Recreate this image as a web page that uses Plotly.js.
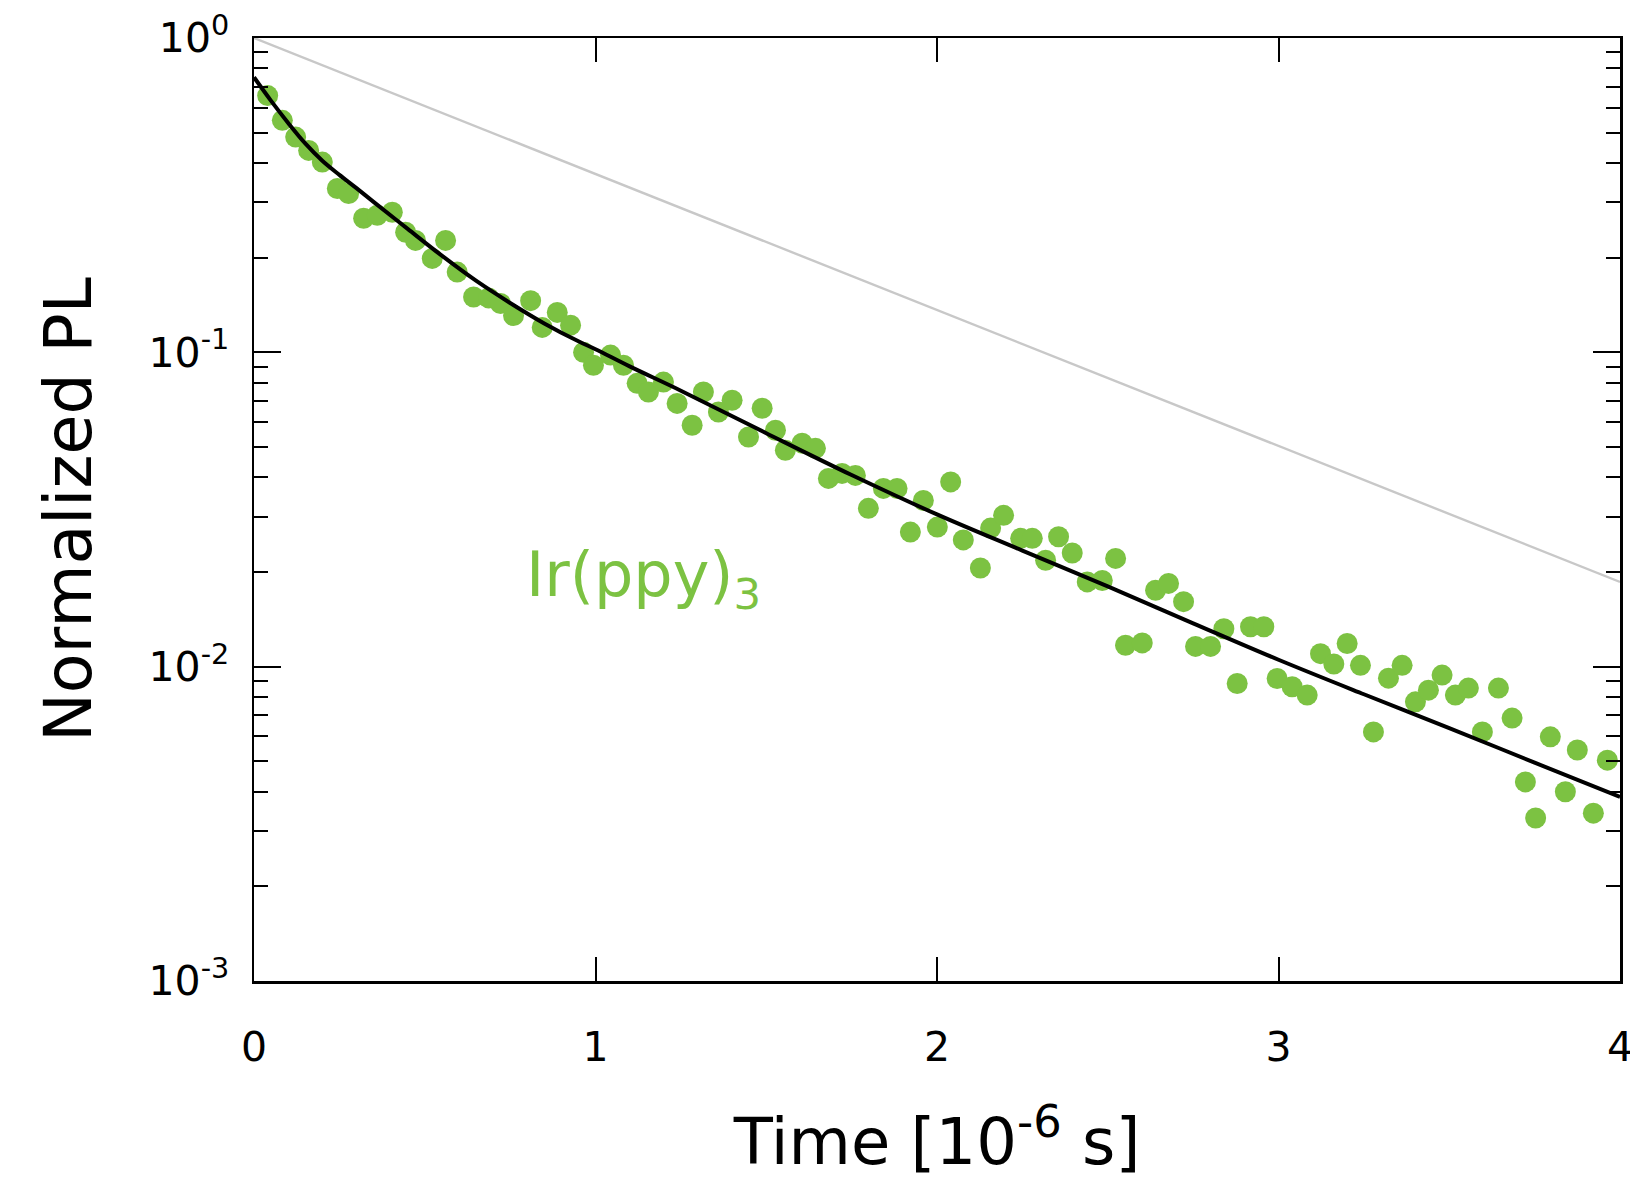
<!DOCTYPE html>
<html>
<head>
<meta charset="utf-8">
<script src="https://cdn.plot.ly/plotly-3.0.1.min.js"></script>
<style>
  html, body { margin: 0; padding: 0; background: #ffffff; }
  #chart { width: 1630px; height: 1179px; }
</style>
</head>
<body>
<div id="chart"></div>
<script>
// ---- Data ----
const timeData = [0.040,0.083,0.122,0.160,0.200,0.244,0.277,0.321,0.361,0.405,
  0.444,0.473,0.522,0.561,0.595,0.643,0.687,0.722,0.760,0.810,
  0.844,0.888,0.927,0.965,0.994,1.044,1.082,1.122,1.155,1.199,
  1.239,1.283,1.316,1.360,1.400,1.448,1.488,1.527,1.556,1.605,
  1.644,1.682,1.722,1.761,1.799,1.843,1.883,1.922,1.960,2.001,
  2.040,2.077,2.127,2.157,2.195,2.245,2.279,2.318,2.356,2.396,
  2.440,2.484,2.523,2.552,2.601,2.640,2.678,2.722,2.757,2.801,
  2.840,2.879,2.918,2.957,2.996,3.040,3.084,3.123,3.162,3.201,
  3.240,3.278,3.322,3.362,3.401,3.439,3.479,3.518,3.556,3.597,
  3.644,3.684,3.723,3.753,3.796,3.840,3.875,3.922,3.963,4.001];
const plData = [0.656,0.547,0.484,0.439,0.403,0.332,0.320,0.267,0.273,0.279,
  0.241,0.227,0.199,0.227,0.180,0.150,0.149,0.143,0.131,0.146,
  0.120,0.134,0.122,0.100,0.091,0.098,0.091,0.0797,0.0748,0.0804,
  0.0688,0.0586,0.0748,0.0646,0.0704,0.0538,0.0664,0.0565,0.0488,0.0514,
  0.0495,0.0397,0.0412,0.0406,0.0319,0.0369,0.0369,0.0268,0.0338,0.0278,
  0.0387,0.0253,0.0206,0.0276,0.0303,0.0256,0.0256,0.0218,0.0259,0.0230,
  0.0186,0.0188,0.0221,0.0117,0.0119,0.0175,0.0184,0.0161,0.0116,0.0116,
  0.0132,0.00884,0.0134,0.0134,0.00917,0.00863,0.00812,0.0110,0.0102,0.01185,
  0.0101,0.00620,0.00919,0.0101,0.00773,0.00842,0.00940,0.00812,0.00855,0.00620,
  0.00855,0.00686,0.00430,0.00330,0.00598,0.00400,0.00543,0.00342,0.00504,0.00420];

// fitted curve
const fitTime = [0, 0.05, 0.10, 0.15, 0.20, 0.25, 0.30, 0.35, 0.45, 0.55,
  0.65, 0.75, 0.85, 0.95, 1.0, 1.1, 1.25, 1.5, 1.75, 2.0,
  2.25, 2.5, 2.75, 3.0, 3.25, 3.5, 3.75, 4.0];
const fitPL = [0.750, 0.631, 0.537, 0.462, 0.407, 0.367, 0.333, 0.301, 0.247, 0.203,
  0.169, 0.1436, 0.1236, 0.1084, 0.1023, 0.0902, 0.0755, 0.0553, 0.0407, 0.0305,
  0.0234, 0.0180, 0.01374, 0.01052, 0.00817, 0.00638, 0.00495, 0.00385];

// grey single-exponential reference line
const refTime = [0, 4];
const refPL = [1.0, 0.0186];

const xTickVals = [0, 1, 2, 3, 4];
const xTickText = ['0', '1', '2', '3', '4'];
const yTickVals = [1, 0.1, 0.01, 0.001];
const yTickText = ['10<sup>0</sup>', '10<sup>-1</sup>', '10<sup>-2</sup>', '10<sup>-3</sup>'];

const seriesLabel = 'Ir(ppy)<sub>3</sub>';
const xTitle = 'Time [10<sup>-6</sup> s]';
const yTitle = 'Normalized PL';

// ---- Styles ----
const green = '#7cc242';
const fontFam = '"DejaVu Sans", "Open Sans", sans-serif';

const traces = [
  {
    x: refTime, y: refPL, type: 'scatter', mode: 'lines',
    line: { color: '#c8c8c8', width: 2.4 },
    hoverinfo: 'skip', showlegend: false
  },
  {
    x: timeData, y: plData, type: 'scatter', mode: 'markers',
    marker: { color: green, size: 21, line: { width: 0 } },
    cliponaxis: false, showlegend: false
  },
  {
    x: fitTime, y: fitPL, type: 'scatter', mode: 'lines',
    line: { color: '#000000', width: 4, shape: 'spline', smoothing: 1 },
    showlegend: false
  }
];

const layout = {
  width: 1630, height: 1179,
  paper_bgcolor: '#ffffff', plot_bgcolor: '#ffffff',
  margin: { l: 253.5, r: 10, t: 37.5, b: 198 },
  font: { family: fontFam, color: '#000000' },
  showlegend: false,
  xaxis: {
    type: 'linear', range: [0, 4],
    tickvals: xTickVals, ticktext: xTickText,
    ticks: 'inside', ticklen: 24, tickwidth: 2, tickcolor: '#000',
    showline: true, linecolor: '#000', linewidth: 2.5, mirror: 'ticks',
    showgrid: false, zeroline: false,
    tickfont: { size: 41, family: fontFam },
    ticklabelstandoff: 28,
    ticklabeloverflow: 'allow',
    title: { text: xTitle, font: { size: 64, family: fontFam }, standoff: 54 }
  },
  yaxis: {
    type: 'log', range: [-3, 0],
    tickvals: yTickVals, ticktext: yTickText,
    ticks: 'inside', ticklen: 27, tickwidth: 2, tickcolor: '#000',
    minor: { ticks: 'inside', ticklen: 14, tickwidth: 2, tickcolor: '#000', dtick: 'D1', showgrid: false },
    showline: true, linecolor: '#000', linewidth: 2.5, mirror: 'ticks',
    showgrid: false, zeroline: false,
    tickfont: { size: 41, family: fontFam },
    ticklabelstandoff: 14,
    ticklabeloverflow: 'allow',
    title: { text: yTitle, font: { size: 65, family: fontFam }, standoff: 36 }
  },
  annotations: [
    {
      x: 0.79, y: -1.72, xref: 'x', yref: 'y',
      text: seriesLabel, showarrow: false,
      xanchor: 'left', yanchor: 'middle',
      font: { size: 62, color: green, family: fontFam }
    }
  ]
};

Plotly.newPlot('chart', traces, layout, { displayModeBar: false, staticPlot: true });
</script>
</body>
</html>
